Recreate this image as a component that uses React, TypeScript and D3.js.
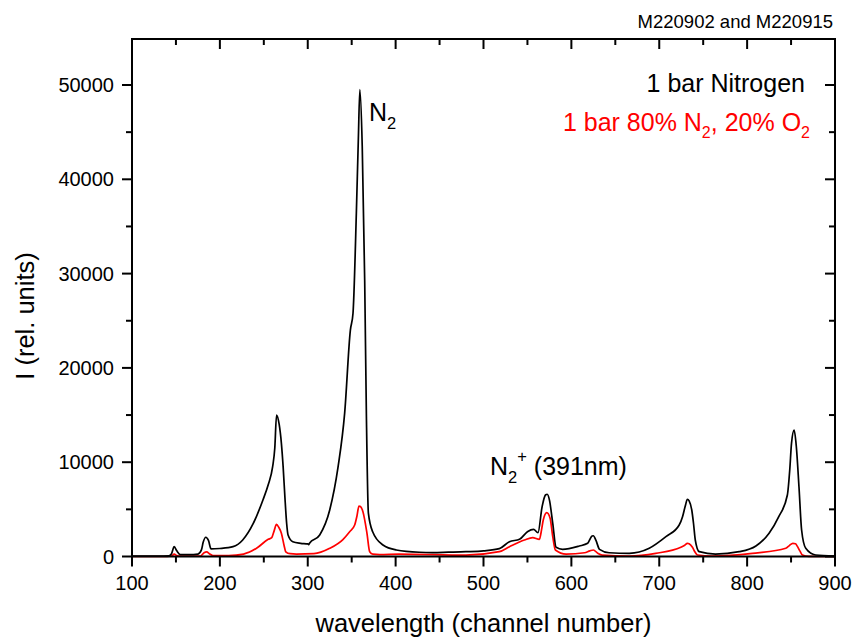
import React from "react";
import * as d3 from "d3";

const n2Channel = [100,130,142,145,148,151,155,165,175,179,181,184,187,190,200,215,226,238,249,255,260,262.5,264.5,267.5,270,272,274,276,277.6,283,292,300,301,302,313.6,325,334.5,342,348.5,351.5,355.3,357.5,359.3,362,364.8,366.7,369,374,385.6,400.8,427,442,460,480,500,518,529.5,541,550,557,562,566.7,570.5,572.5,575,578.8,582.6,590,609,618.5,623.5,625,628,632,643,666,688.6,707.6,722.7,726.5,730,732,734,737,739,741,745.5,764,791,810,825,836,845.8,848.5,850.5,853.5,856,859,862,866.7,878,899];
const n2Intensity = [50,50,80,300,1040,600,200,200,260,700,1500,2040,1700,800,850,1040,1750,3500,6000,7600,9500,11500,15000,14000,12000,9500,6300,3500,2280,1570,1400,1330,1250,1400,2280,4930,9500,15200,24000,25800,36400,44000,49500,43500,29300,15200,4600,2600,1220,690,450,420,460,510,600,830,1570,1820,2630,2880,2520,5280,6520,6600,6000,3520,975,760,1110,1400,2170,2200,1700,760,400,340,870,2100,3340,4220,5500,6070,5900,4930,3500,1750,510,260,510,1110,2460,4220,6520,9170,12000,13400,11640,7400,2810,870,160,50];

const mixChannel = [100,140,145,148,151,155,178,182,185,188,192,210,227,241.7,255,259,262,264.4,267,270,273,275,280,287,307,325,340,347.7,353.4,356,358.3,360,362.8,367.4,370.5,374,382,404,480,518,529.5,546.6,556,563.6,566,568,572,575.8,578.8,581.8,594,615,621,625,630,635,666,696,724.6,729,732,734,737.8,740.5,743.5,760,806,844,848,852,855,857,860,863,870,900];
const mixIntensity = [0,0,50,260,100,30,50,400,500,300,100,100,260,870,1820,2000,2800,3400,3100,2460,1200,500,300,260,300,870,1800,2630,3340,4300,5350,5300,4750,2460,500,250,200,260,150,510,1040,1750,2000,1820,2800,3870,4650,4050,2100,690,260,400,600,690,350,150,50,340,975,1200,1400,1350,975,500,160,50,340,870,1150,1400,1350,1100,600,160,20,0];

const xMajorTicks = [100,200,300,400,500,600,700,800,900];
const xMinorTicks = [150,250,350,450,550,650,750,850];
const yMajorTicks = [0,10000,20000,30000,40000,50000];
const yMinorTicks = [5000,15000,25000,35000,45000];

const FONT = "'Liberation Sans', Arial, Helvetica, sans-serif";

export default function App() {
  const W = 856, H = 639;
  const left = 132, right = 835, top = 39;
  const x = d3.scaleLinear().domain([100, 900]).range([left, right]);
  const y = d3.scaleLinear().domain([0, 50000]).range([556.5, 85]);
  const bottom = y(0);

  const line = d3.line<[number, number]>()
    .x(d => x(d[0]))
    .y(d => y(d[1]))
    .curve(d3.curveMonotoneX);

  const n2Data: [number, number][] = n2Channel.map((c, i) => [c, n2Intensity[i]]);
  const mixData: [number, number][] = mixChannel.map((c, i) => [c, mixIntensity[i]]);

  const major = 10, minor = 6;

  return (
    <svg width={W} height={H} style={{ position: "absolute", left: 0, top: 0, background: "#fff" }} fontFamily={FONT}>
      <rect x={0} y={0} width={W} height={H} fill="#fff" />
      <path d={line(mixData) || ""} fill="none" stroke="#ff0000" strokeWidth={1.7} />
      <path d={line(n2Data) || ""} fill="none" stroke="#000" strokeWidth={1.7} />

      {/* frame */}
      <rect x={left} y={top} width={right - left} height={bottom - top} fill="none" stroke="#000" strokeWidth={2} />

      {/* x ticks */}
      {xMajorTicks.map(t => (
        <g key={"xM" + t}>
          <line x1={x(t)} x2={x(t)} y1={bottom} y2={bottom + major} stroke="#000" strokeWidth={2} />
          <line x1={x(t)} x2={x(t)} y1={top} y2={top + major} stroke="#000" strokeWidth={2} />
          <text x={x(t)} y={590} textAnchor="middle" fontSize={20}>{t}</text>
        </g>
      ))}
      {xMinorTicks.map(t => (
        <g key={"xm" + t}>
          <line x1={x(t)} x2={x(t)} y1={bottom} y2={bottom + minor} stroke="#000" strokeWidth={2} />
          <line x1={x(t)} x2={x(t)} y1={top} y2={top + minor} stroke="#000" strokeWidth={2} />
        </g>
      ))}
      {/* y ticks */}
      {yMajorTicks.map(t => (
        <g key={"yM" + t}>
          <line x1={left - major} x2={left} y1={y(t)} y2={y(t)} stroke="#000" strokeWidth={2} />
          <line x1={right - major} x2={right} y1={y(t)} y2={y(t)} stroke="#000" strokeWidth={2} />
          <text x={114} y={y(t) + 7} textAnchor="end" fontSize={20}>{t}</text>
        </g>
      ))}
      {yMinorTicks.map(t => (
        <g key={"ym" + t}>
          <line x1={left - minor} x2={left} y1={y(t)} y2={y(t)} stroke="#000" strokeWidth={2} />
          <line x1={right - minor} x2={right} y1={y(t)} y2={y(t)} stroke="#000" strokeWidth={2} />
        </g>
      ))}

      {/* axis titles */}
      <text x={(left + right) / 2} y={632} textAnchor="middle" fontSize={25.5}>wavelength (channel number)</text>
      <text transform="translate(34,316) rotate(-90)" textAnchor="middle" fontSize={25.5}>I (rel. units)</text>

      {/* top-right id */}
      <text x={833} y={28} textAnchor="end" fontSize={18.5}>M220902 and M220915</text>

      {/* legend */}
      <text x={805} y={92} textAnchor="end" fontSize={25}>1 bar Nitrogen</text>
      <text x={810} y={131} textAnchor="end" fontSize={25} fill="#ff0000">
        1 bar 80% N<tspan fontSize={16} dy={7}>2</tspan><tspan dy={-7}>, 20% O</tspan><tspan fontSize={16} dy={7}>2</tspan>
      </text>

      {/* annotations */}
      <text x={369} y={121} fontSize={25}>N<tspan fontSize={16.5} dy={8}>2</tspan></text>
      <text x={490} y={475} fontSize={25}>N<tspan fontSize={16.5} dy={8}>2</tspan><tspan fontSize={16.5} dy={-21}>+</tspan><tspan dy={13}> (391nm)</tspan></text>
    </svg>
  );
}
